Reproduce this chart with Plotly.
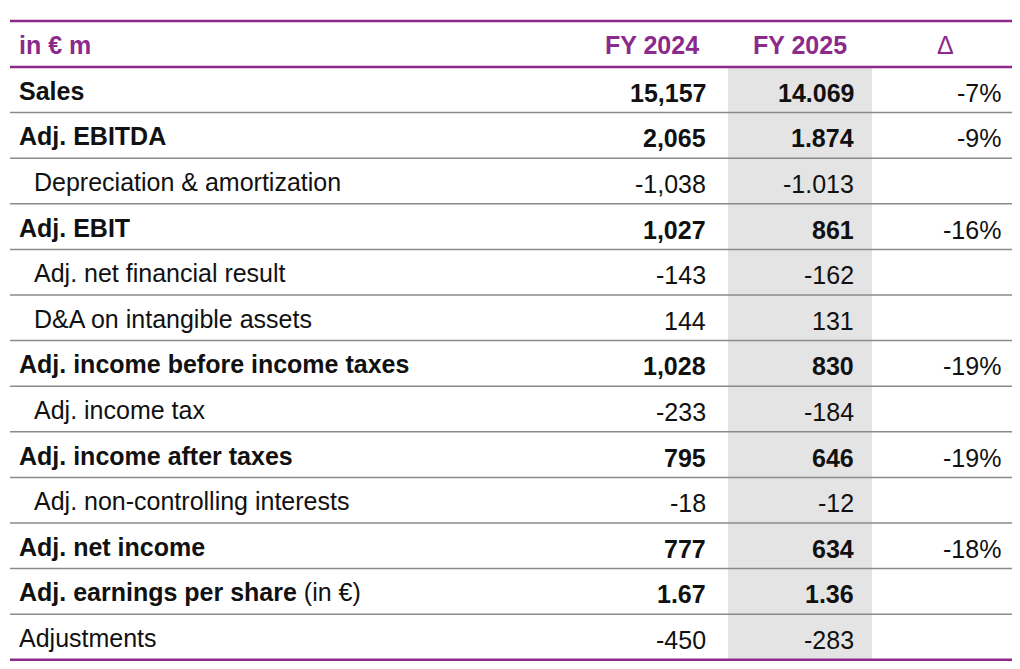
import plotly.graph_objects as go

labels = ["Sales", "Adj. EBITDA", "Depreciation & amortization", "Adj. EBIT",
          "Adj. net financial result", "D&A on intangible assets",
          "Adj. income before income taxes", "Adj. income tax",
          "Adj. income after taxes", "Adj. non-controlling interests",
          "Adj. net income", "Adj. earnings per share", "Adjustments"]
bold = [True, True, False, True, False, False, True, False, True, False, True, True, False]
indent = [False, False, True, False, True, True, False, True, False, True, False, False, False]
fy2024 = ["15,157", "2,065", "-1,038", "1,027", "-143", "144", "1,028", "-233", "795", "-18", "777", "1.67", "-450"]
fy2025 = ["14.069", "1.874", "-1.013", "861", "-162", "131", "830", "-184", "646", "-12", "634", "1.36", "-283"]
delta = ["-7%", "-9%", "", "-16%", "", "", "-19%", "", "-19%", "", "-18%", "", ""]
headers = ["in € m", "FY 2024", "FY 2025", "Δ"]

PURPLE = "#8c2a8c"
FONT = "Liberation Sans"
FS = 25
top, head_h, row_h = 21, 46, 45.6
fig = go.Figure()
fig.update_xaxes(range=[8, 1028], visible=False, fixedrange=True)
fig.update_yaxes(range=[677, 8], visible=False, fixedrange=True)
shapes, anns = [], []
y0 = top + head_h
shapes.append(dict(type="rect", x0=728, x1=872, y0=y0, y1=y0 + row_h * len(labels),
                   fillcolor="#e4e4e4", line_width=0, layer="below"))
hy = top + head_h / 2 + 1
for txt, x, anc in zip(headers, [17, 701, 849, 945], ["left", "right", "right", "center"]):
    anns.append(dict(x=x, y=hy, text="<b>%s</b>" % txt if txt != "Δ" else txt,
                     xanchor=anc, yanchor="middle", showarrow=False,
                     font=dict(family=FONT, size=FS, color=PURPLE)))
for i, lab in enumerate(labels):
    cy = y0 + row_h * (i + 0.5) + 1
    b = bold[i]
    t = "<b>%s</b>" % lab if b else lab
    if lab == "Adj. earnings per share":
        t += " (in €)"
    anns.append(dict(x=32 if indent[i] else 17, y=cy, text=t, xanchor="left", yanchor="middle",
                     showarrow=False, font=dict(family=FONT, size=FS, color="#111")))
    for v, x in [(fy2024[i], 708), (fy2025[i], 856), (delta[i], 1003)]:
        if v:
            anns.append(dict(x=x, y=cy + 2, text="<b>%s</b>" % v if (b and x != 1003) else v,
                             xanchor="right", yanchor="middle", showarrow=False,
                             font=dict(family=FONT, size=FS, color="#111")))
    if i < len(labels) - 1:
        yl = y0 + row_h * (i + 1)
        shapes.append(dict(type="line", x0=10, x1=1028, y0=yl, y1=yl, line=dict(color="#8a8a8a", width=1.5)))
for yl in [top, y0, y0 + row_h * len(labels)]:
    shapes.append(dict(type="line", x0=10, x1=1028, y0=yl, y1=yl, line=dict(color=PURPLE, width=2.5)))
fig.update_layout(width=1020, height=669, margin=dict(l=0, r=0, t=0, b=0),
                  plot_bgcolor="white", paper_bgcolor="white", shapes=shapes, annotations=anns,
                  showlegend=False)
fig.write_html("out.html", config={"displayModeBar": False})
